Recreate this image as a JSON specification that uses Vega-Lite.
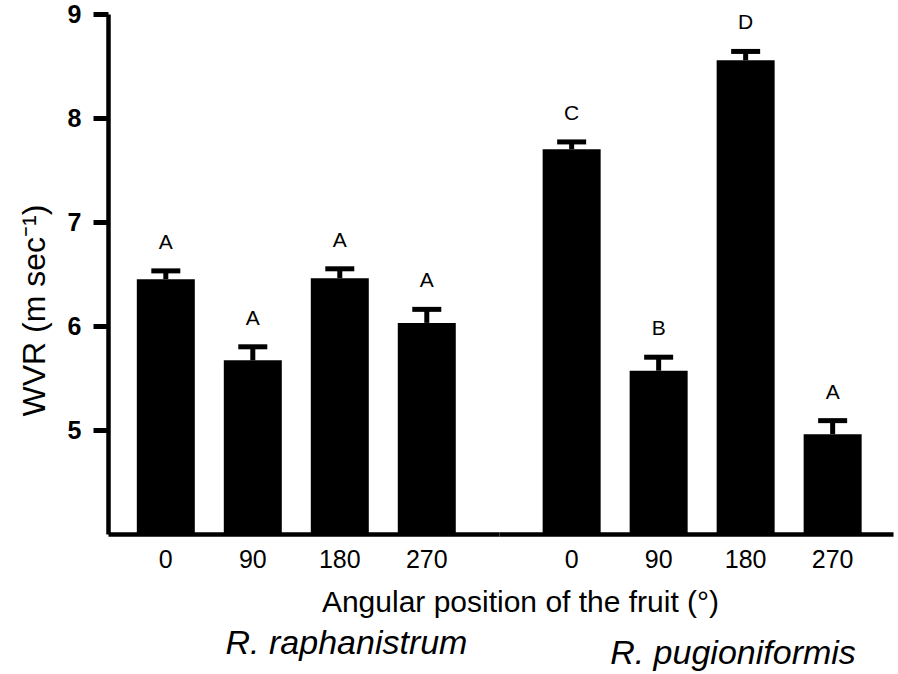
{
  "$schema": "https://vega.github.io/schema/vega-lite/v6.json",
  "autosize": {"type": "pad"},
  "padding": {"left": 18, "top": 2, "right": 4, "bottom": 0},
  "bounds": "flush",
  "spacing": 0,
  "background": "white",
  "config": {
    "view": {"stroke": null},
    "font": "Liberation Sans",
    "axis": {"domainColor": "black", "tickColor": "black", "labelColor": "black", "titleColor": "black", "grid": false},
    "title": {"color": "black"}
  },
  "resolve": {"scale": {"x": "independent", "y": "independent"}},
  "data": {"values": [
    {"species": "R. raphanistrum", "angle": "0", "wvr": 6.45, "upper": 6.53, "group": "A"},
    {"species": "R. raphanistrum", "angle": "90", "wvr": 5.67, "upper": 5.80, "group": "A"},
    {"species": "R. raphanistrum", "angle": "180", "wvr": 6.46, "upper": 6.55, "group": "A"},
    {"species": "R. raphanistrum", "angle": "270", "wvr": 6.03, "upper": 6.16, "group": "A"},
    {"species": "R. pugioniformis", "angle": "0", "wvr": 7.70, "upper": 7.77, "group": "C"},
    {"species": "R. pugioniformis", "angle": "90", "wvr": 5.57, "upper": 5.70, "group": "B"},
    {"species": "R. pugioniformis", "angle": "180", "wvr": 8.555, "upper": 8.64, "group": "D"},
    {"species": "R. pugioniformis", "angle": "270", "wvr": 4.96, "upper": 5.09, "group": "A"}
  ]},
  "hconcat": [
    {
      "width": 391,
      "height": 520,
      "transform": [{"filter": "datum.species === 'R. raphanistrum'"}],
      "title": {"text": "R. raphanistrum", "orient": "bottom", "anchor": "middle", "fontStyle": "italic", "fontWeight": "normal", "fontSize": 34, "dx": 43, "offset": 10},
      "encoding": {
        "x": {
          "field": "angle", "type": "nominal",
          "sort": ["0", "90", "180", "270"],
          "scale": {"domain": ["0", "90", "180", "270"], "paddingInner": 0.3333, "paddingOuter": 0.414, "align": 0.4},
          "axis": {"title": "Angular position of the fruit (°)", "titleX": 412, "titleY": 77, "titleAlign": "center", "titleBaseline": "alphabetic", "titleFontSize": 30, "titleFontWeight": "normal", "labelAngle": 0, "labelFontSize": 25, "labelPadding": 13, "ticks": false, "domainWidth": 4.5}
        }
      },
      "layer": [
        {
          "mark": {"type": "bar", "color": "black"},
          "encoding": {
            "y": {"field": "wvr", "type": "quantitative", "title": "WVR (m sec⁻¹)",
              "scale": {"domain": [4, 9], "nice": false, "zero": false},
              "axis": {"values": [5, 6, 7, 8, 9], "format": "d", "titleFontSize": 32, "titleFontWeight": "normal", "titleX": -64, "titleY": 296, "titleAngle": 270, "titleAlign": "center", "titleBaseline": "alphabetic", "labelFontSize": 25, "labelFontWeight": "bold", "labelPadding": 12, "tickSize": 15, "tickWidth": 5, "domainWidth": 4.5}},
            "y2": {"datum": 4}
          }
        },
        {
          "mark": {"type": "rule", "strokeWidth": 5, "color": "black"},
          "encoding": {"y": {"field": "wvr", "type": "quantitative"}, "y2": {"field": "upper"}}
        },
        {
          "mark": {"type": "tick", "color": "black", "thickness": 5, "size": 29, "opacity": 1},
          "encoding": {"y": {"field": "upper", "type": "quantitative"}}
        },
        {
          "mark": {"type": "text", "fontSize": 21, "baseline": "alphabetic", "dy": -22, "color": "black"},
          "encoding": {"y": {"field": "upper", "type": "quantitative"}, "text": {"field": "group"}}
        }
      ]
    },
    {
      "width": 394,
      "height": 520,
      "transform": [{"filter": "datum.species === 'R. pugioniformis'"}],
      "title": {"text": "R. pugioniformis", "orient": "bottom", "anchor": "middle", "fontStyle": "italic", "fontWeight": "normal", "fontSize": 34, "dx": 37, "offset": 65},
      "encoding": {
        "x": {
          "field": "angle", "type": "nominal",
          "sort": ["0", "90", "180", "270"],
          "scale": {"domain": ["0", "90", "180", "270"], "paddingInner": 0.3333, "paddingOuter": 0.431, "align": 0.582},
          "axis": {"title": null, "labelAngle": 0, "labelFontSize": 25, "labelPadding": 13, "ticks": false, "domainWidth": 4.5}
        }
      },
      "layer": [
        {
          "mark": {"type": "bar", "color": "black"},
          "encoding": {
            "y": {"field": "wvr", "type": "quantitative", "scale": {"domain": [4, 9], "nice": false, "zero": false}, "axis": null},
            "y2": {"datum": 4}
          }
        },
        {
          "mark": {"type": "rule", "strokeWidth": 5, "color": "black"},
          "encoding": {"y": {"field": "wvr", "type": "quantitative", "axis": null}, "y2": {"field": "upper"}}
        },
        {
          "mark": {"type": "tick", "color": "black", "thickness": 5, "size": 29, "opacity": 1},
          "encoding": {"y": {"field": "upper", "type": "quantitative", "axis": null}}
        },
        {
          "mark": {"type": "text", "fontSize": 21, "baseline": "alphabetic", "dy": -22, "color": "black"},
          "encoding": {"y": {"field": "upper", "type": "quantitative", "axis": null}, "text": {"field": "group"}}
        }
      ]
    }
  ]
}
